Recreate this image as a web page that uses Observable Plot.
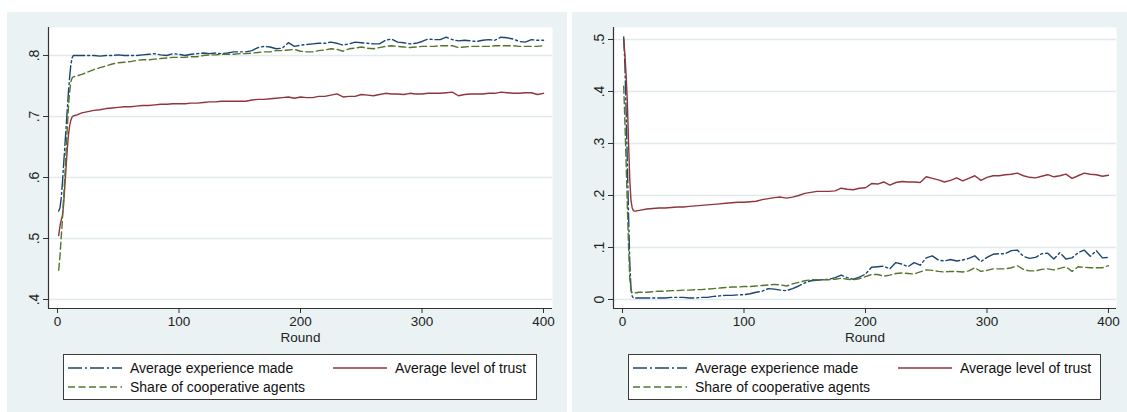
<!DOCTYPE html>
<html>
<head>
<meta charset="utf-8">
<script src="https://cdn.jsdelivr.net/npm/d3@7"></script>
<script src="https://cdn.jsdelivr.net/npm/@observablehq/plot@0.6"></script>
<style>
  html, body { margin: 0; padding: 0; background: #fff; }
  body { width: 1127px; height: 412px; position: relative; overflow: hidden;
         font-family: "Liberation Sans", Arial, sans-serif; }
  .panel { position: absolute; top: 12px; height: 400px; background: #EAF2F3; }
  .panel > svg { position: absolute; left: 0; top: 0; }
</style>
</head>
<body>
<div id="left" class="panel" style="left:7px;width:560px"></div>
<div id="right" class="panel" style="left:572px;width:555px"></div>
<script>
// Simulation rounds at which the averages are recorded
const rounds = [1,2,3,4,5,6,7,8,9,10,11,12,13,
  15,20,25,30,35,40,45,50,55,60,65,70,75,80,85,90,95,100,
  105,110,115,120,125,130,135,140,145,150,155,160,165,170,175,180,185,190,195,200,
  205,210,215,220,225,230,235,240,245,250,255,260,265,270,275,280,285,290,295,300,
  305,310,315,320,325,330,335,340,345,350,355,360,365,370,375,380,385,390,395,400];

// Left panel
const experienceA = [.545,.55,.565,.59,.62,.65,.68,.71,.74,.765,.785,.796,.80,
  .800,.800,.800,.800,.799,.800,.800,.801,.800,.800,.800,.801,.802,.803,.801,.800,.803,.802,
  .800,.802,.803,.804,.803,.804,.803,.804,.806,.806,.806,.808,.813,.815,.814,.811,.812,.821,.815,
  .817,.818,.819,.820,.820,.822,.820,.817,.819,.822,.821,.820,.819,.819,.825,.827,.822,.821,.819,.820,
  .823,.827,.826,.826,.830,.826,.824,.825,.824,.823,.825,.826,.825,.830,.829,.827,.823,.822,.826,.825,.825];
const trustA = [.505,.52,.53,.537,.555,.585,.615,.645,.67,.685,.694,.699,.701,
  .702,.706,.708,.710,.711,.713,.714,.715,.716,.716,.717,.718,.718,.719,.720,.720,.721,.721,
  .721,.722,.722,.723,.724,.724,.725,.725,.725,.725,.725,.727,.728,.728,.729,.730,.731,.732,.730,
  .732,.731,.731,.733,.733,.735,.737,.732,.733,.733,.736,.735,.734,.736,.738,.737,.737,.736,.738,.737,
  .737,.738,.738,.738,.739,.740,.734,.736,.737,.737,.737,.738,.738,.740,.739,.738,.738,.739,.739,.736,.738];
const shareA = [.448,.47,.50,.53,.565,.60,.64,.68,.715,.74,.757,.763,.765,
  .766,.769,.773,.777,.780,.783,.786,.788,.789,.790,.792,.793,.793,.794,.795,.796,.797,.797,
  .797,.798,.798,.800,.801,.801,.802,.802,.802,.803,.803,.804,.805,.806,.806,.808,.808,.809,.810,
  .807,.806,.806,.808,.809,.811,.810,.807,.811,.812,.814,.812,.811,.813,.815,.816,.815,.814,.813,.814,
  .815,.815,.815,.816,.816,.816,.813,.814,.815,.815,.815,.815,.816,.816,.816,.816,.815,.815,.815,.815,.816];

// Right panel
const experienceB = [.505,.45,.36,.26,.16,.07,.02,.006,.003,.003,.003,.003,.003,
  .003,.003,.003,.003,.003,.004,.004,.004,.003,.003,.004,.004,.006,.007,.008,.008,.009,.009,
  .011,.014,.016,.021,.020,.018,.017,.021,.026,.032,.036,.037,.038,.039,.042,.047,.042,.039,.043,
  .049,.062,.063,.064,.059,.071,.068,.063,.071,.066,.080,.084,.076,.074,.077,.074,.076,.079,.084,.073,
  .081,.087,.088,.088,.094,.095,.083,.079,.081,.088,.089,.078,.090,.078,.080,.090,.095,.083,.094,.080,.081];
const trustB = [.50,.47,.43,.38,.30,.23,.19,.176,.171,.170,.170,.171,.171,
  .172,.174,.175,.176,.176,.177,.178,.178,.179,.180,.181,.182,.183,.184,.185,.186,.187,.187,
  .188,.189,.192,.194,.196,.197,.195,.197,.200,.204,.206,.208,.208,.208,.209,.214,.212,.211,.214,
  .215,.223,.222,.226,.220,.225,.227,.226,.226,.225,.236,.233,.230,.226,.229,.234,.228,.233,.238,.229,
  .235,.238,.238,.240,.241,.243,.238,.235,.234,.237,.240,.236,.238,.241,.233,.238,.243,.241,.240,.237,.239];
const shareB = [.41,.34,.26,.18,.10,.04,.017,.013,.013,.013,.013,.013,.014,
  .014,.014,.015,.016,.016,.017,.017,.018,.018,.019,.019,.020,.021,.022,.023,.024,.024,.025,
  .025,.026,.027,.028,.029,.028,.026,.030,.033,.036,.038,.038,.038,.038,.039,.041,.039,.038,.040,
  .044,.048,.048,.045,.047,.050,.051,.050,.049,.053,.057,.056,.054,.053,.054,.054,.053,.055,.061,.054,
  .056,.059,.059,.059,.061,.065,.058,.055,.055,.058,.059,.057,.060,.063,.054,.063,.062,.061,.061,.061,.065];

const seriesNames = ["Average experience made", "Average level of trust", "Share of cooperative agents"];
const seriesColors = ["#1a476f", "#90353b", "#55752f"];
const seriesDash = ["14,3,2,3", null, "7,3.5"];

const xTicks = [0, 100, 200, 300, 400];
const xTickLabels = ["0", "100", "200", "300", "400"];
const yTicksA = [0.4, 0.5, 0.6, 0.7, 0.8];
const yTickLabelsA = [".4", ".5", ".6", ".7", ".8"];
const yTicksB = [0, 0.1, 0.2, 0.3, 0.4, 0.5];
const yTickLabelsB = ["0", ".1", ".2", ".3", ".4", ".5"];
const xLabel = "Round";

const axisColor = "#333";
const gridColor = "#E1EAEC";
const font = "'Liberation Sans', Arial, sans-serif";

function panel(el, width, marginRight, xDomain, yDomain, yTicks, yTickLabels, values) {
  const lines = values.map((vals, k) =>
    Plot.line(rounds.map((r, i) => ({round: r, value: vals[i]})), {
      x: "round", y: "value",
      stroke: seriesColors[k], strokeWidth: 1.4,
      strokeDasharray: seriesDash[k] || undefined
    }));
  const chart = Plot.plot({
    width, height: 338,
    marginLeft: 41, marginRight, marginTop: 15, marginBottom: 42,
    style: {background: "none", fontFamily: font, fontSize: "14px", color: "#222"},
    x: {domain: xDomain},
    y: {domain: yDomain},
    marks: [
      Plot.frame({fill: "#fff", stroke: null}),
      Plot.ruleY(yTicks, {stroke: gridColor, strokeWidth: 1.5}),
      ...lines,
      Plot.ruleX([xDomain[0]], {stroke: axisColor, strokeWidth: 1.2}),
      Plot.ruleY([yDomain[0]], {stroke: axisColor, strokeWidth: 1.2}),
      Plot.axisY(yTicks, {
        tickSize: 5, tickPadding: 5, tickRotate: -90, label: null,
        stroke: axisColor, fontSize: 14,
        tickFormat: d => yTickLabels[yTicks.indexOf(d)]
      }),
      Plot.axisX(xTicks, {
        tickSize: 5, tickPadding: 3, label: null, stroke: axisColor, fontSize: 13.5,
        tickFormat: d => xTickLabels[xTicks.indexOf(d)]
      }),
      Plot.text([xLabel], {frameAnchor: "bottom", dy: 33, fontSize: 13.5, fill: "#222"})
    ]
  });
  el.appendChild(chart);

  // legend box below the plot
  const lw = width - 56 - (width === 560 ? 30 : 26);
  const svg = d3.select(el).append("svg")
    .attr("width", lw).attr("height", 46)
    .style("left", "56px").style("top", "342px");
  svg.append("rect").attr("x", 0.5).attr("y", 0.5)
    .attr("width", lw - 1).attr("height", 45)
    .attr("fill", "#fff").attr("stroke", "#3c3c3c");
  const slots = [{col: 0, row: 0}, {col: 1, row: 0}, {col: 0, row: 1}];
  const colX = [5, 270], rowY = [14, 33];
  slots.forEach((s, k) => {
    const x0 = colX[s.col], y0 = rowY[s.row];
    svg.append("line").attr("x1", x0).attr("x2", x0 + 54).attr("y1", y0).attr("y2", y0)
      .attr("stroke", seriesColors[k]).attr("stroke-width", 1.4)
      .attr("stroke-dasharray", seriesDash[k]);
    svg.append("text").attr("x", x0 + 62).attr("y", y0)
      .attr("dominant-baseline", "central")
      .attr("font-family", font)
      .attr("font-size", 14).attr("fill", "#111")
      .text(seriesNames[k]);
  });
}

panel(document.getElementById("left"), 560, 15, [-7.41, 407.4], [0.38525, 0.8459],
      yTicksA, yTickLabelsA, [experienceA, trustA, shareA]);
panel(document.getElementById("right"), 555, 11, [-7.41, 406.6], [-0.0173, 0.5231],
      yTicksB, yTickLabelsB, [experienceB, trustB, shareB]);
</script>
</body>
</html>
